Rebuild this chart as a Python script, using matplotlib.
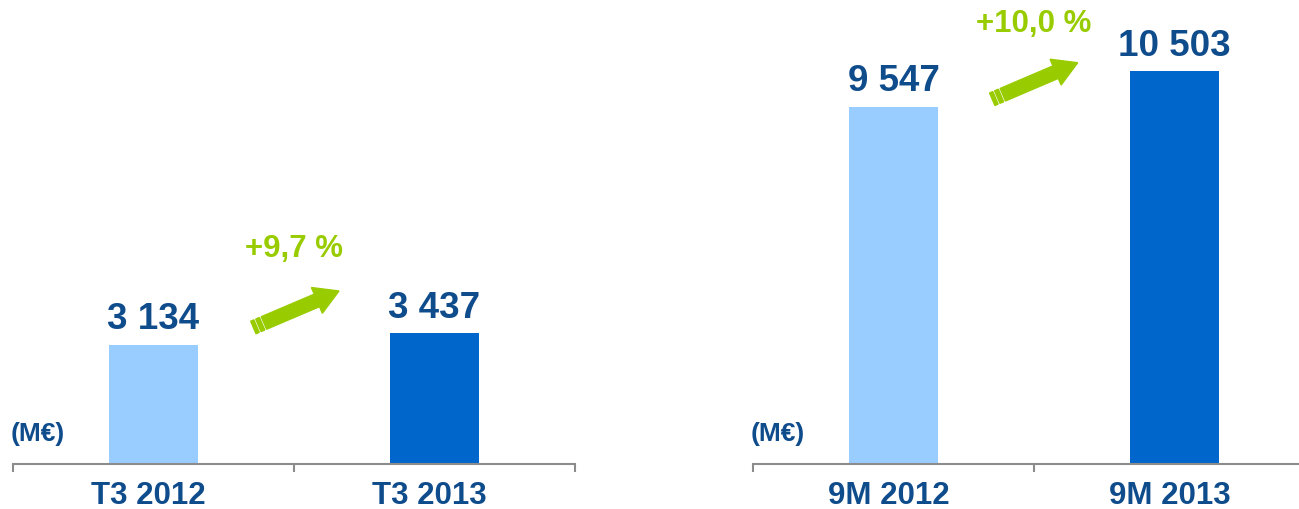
import matplotlib
matplotlib.use("Agg")
import matplotlib.pyplot as plt
import numpy as np
from matplotlib.patches import Polygon
from matplotlib.transforms import IdentityTransform, ScaledTranslation

plt.rcParams['font.family'] = ['Liberation Sans', 'DejaVu Sans']
plt.rcParams['font.weight'] = 'bold'

# data
q_labels = ['T3 2012', 'T3 2013']
q_values = [3134, 3437]
q_growth = '+9,7 %'
m_labels = ['9M 2012', '9M 2013']
m_values = [9547, 10503]
m_growth = '+10,0 %'
unit = '(M€)'

light = '#99CCFF'
dark = '#0066CC'
txt = '#0F4C8C'
green = '#99CC00'
grey = '#8C8C8C'

fig = plt.figure(figsize=(12.99, 5.09), dpi=100)
W, H = 1299, 509
ax1 = fig.add_axes([13 / W, 45 / H, 562 / W, 464 / H])
ax2 = fig.add_axes([753 / W, 45 / H, 562 / W, 464 / H])


def draw_arrow(ax, tail, tip):
    p0 = ax.transData.transform(tail)
    p1 = ax.transData.transform(tip)
    u = (p1 - p0) / np.hypot(*(p1 - p0))
    n = np.array([-u[1], u[0]])
    w, hw, hl = 6.8, 14, 24
    pb = p1 - u * hl
    pts = [p0 + n * w, pb + n * w, pb + n * hw, p1, pb - n * hw, pb - n * w, p0 - n * w]
    fig.add_artist(Polygon(pts, closed=True, color=green, transform=IdentityTransform()))
    # striped tail
    for a, b in [(2, 6), (8, 11.5)]:
        s = [p0 - u * a + n * w, p0 - u * b + n * w, p0 - u * b - n * w, p0 - u * a - n * w]
        fig.add_artist(Polygon(s, closed=True, color=green, transform=IdentityTransform()))


def panel(ax, labels, values, ymax, growth, growth_y, tail, tip):
    x = np.arange(len(values))
    ax.bar(x, values, width=0.317, color=[light, dark], edgecolor='none')
    ax.set_xlim(-0.5, 1.5)
    ax.set_ylim(0, ymax)
    for s in ['top', 'right', 'left']:
        ax.spines[s].set_visible(False)
    ax.spines['bottom'].set_color(grey)
    ax.spines['bottom'].set_linewidth(1.5)
    ax.set_yticks([])
    ax.set_xticks([-0.5, 0.5, 1.5])
    ax.set_xticklabels([])
    ax.tick_params(axis='x', which='major', length=6, width=1.5, color=grey, direction='out')
    ax.set_xticks(x, minor=True)
    ax.set_xticklabels(labels, minor=True, fontsize=22.5, fontweight='bold', color=txt)
    ax.tick_params(axis='x', which='minor', length=0, pad=12)
    shift = ScaledTranslation(-5 / 100, 0, fig.dpi_scale_trans)
    for lbl in ax.get_xticklabels(minor=True):
        lbl.set_transform(lbl.get_transform() + shift)
    for xi, v in zip(x, values):
        ax.annotate(f'{v:,}'.replace(',', ' '), (xi, v), xytext=(0, 11), textcoords='offset points',
                    ha='center', va='baseline', fontsize=26.5, fontweight='bold', color=txt)
    ax.text(-0.005, 23 / 464, unit, transform=ax.transAxes, ha='left', va='baseline',
            fontsize=19, fontweight='bold', color=txt)
    ax.text(0.5, growth_y, growth, ha='center', va='baseline', fontsize=22.5,
            fontweight='bold', color=green)
    draw_arrow(ax, tail, tip)


panel(ax1, q_labels, q_values, 12190, q_growth, 5439, (0.393, 3705), (0.660, 4545))
panel(ax2, m_labels, m_values, 12400, m_growth, 11545, (0.389, 9869), (0.6555, 10724))

fig.savefig('out.png', dpi=100)
